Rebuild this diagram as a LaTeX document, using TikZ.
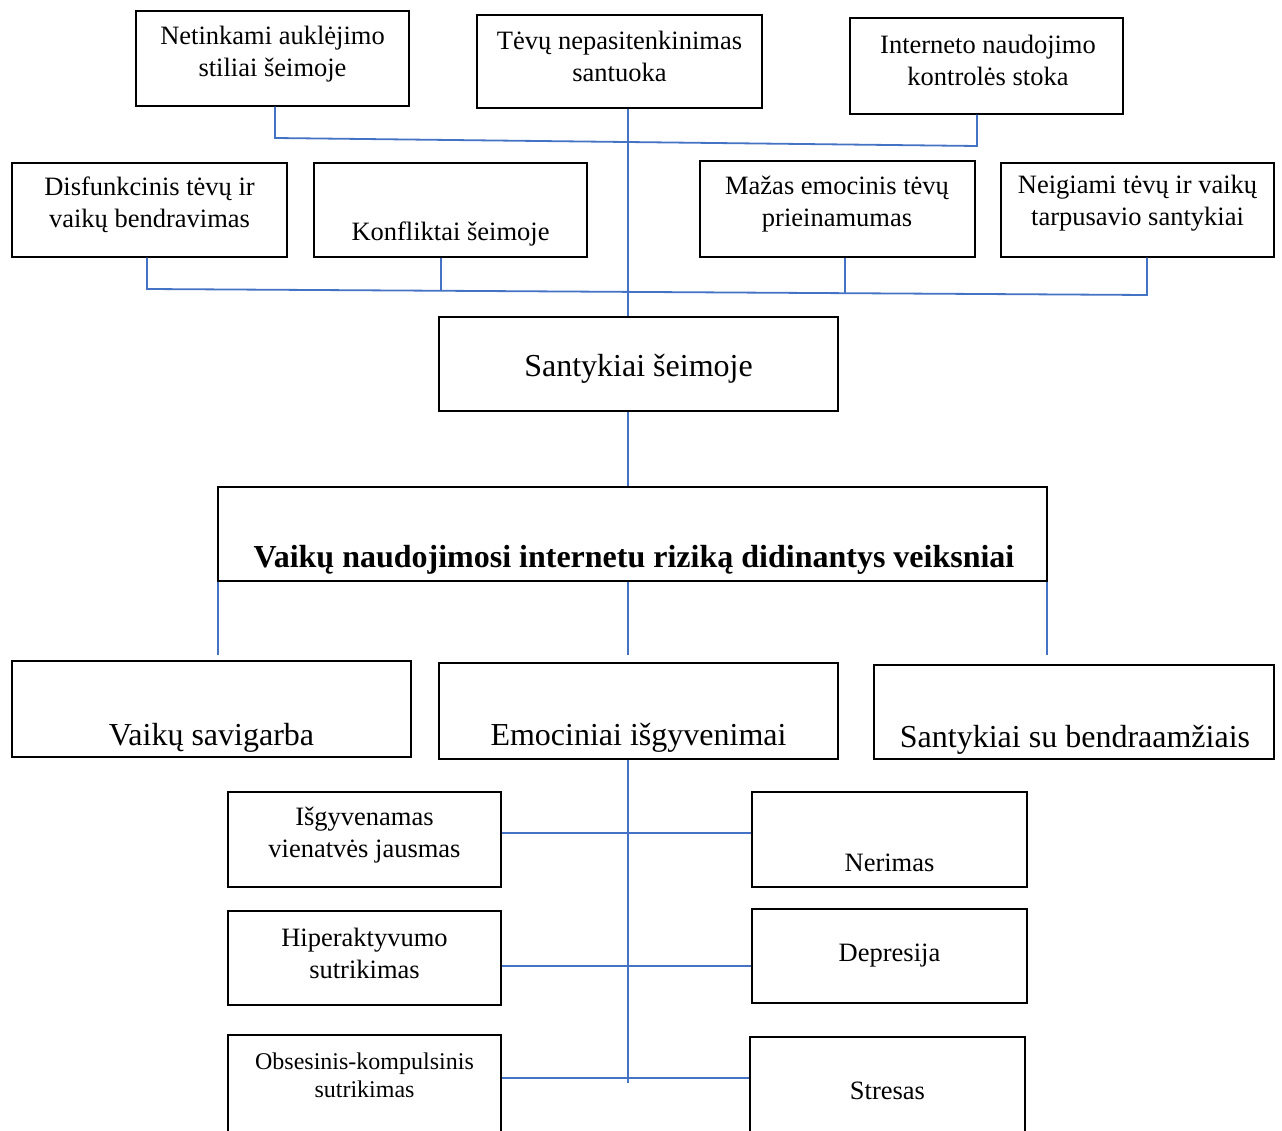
\documentclass[tikz,border=0pt]{standalone}
\usepackage{fontspec}
\setmainfont{Liberation Serif}
\definecolor{linkblue}{HTML}{4472C4}
\begin{document}
\begin{tikzpicture}[x=1pt,y=-1pt,
  box/.style={draw=black, line width=1.5pt, rectangle, inner sep=0pt},
  txt/.style={align=center, inner sep=0pt, font=\fontsize{26.5}{32}\selectfont},
  txtbig/.style={align=center, inner sep=0pt, font=\fontsize{32}{38}\selectfont},
  txtsmall/.style={align=center, inner sep=0pt, font=\fontsize{24}{28}\selectfont},
  link/.style={draw=linkblue, line width=1.8pt}]
\clip (0,0) rectangle (1282,1131);
\fill[white] (0,0) rectangle (1282,1131);
% boxes
\node[box, minimum width=273pt, minimum height=95pt] (b1) at (272.5,58.5) {};
\node[box, minimum width=285pt, minimum height=93pt] (b2) at (619.5,61.5) {};
\node[box, minimum width=273pt, minimum height=96pt] (b3) at (986.5,66) {};
\node[box, minimum width=275pt, minimum height=94pt] (b4) at (149.5,210) {};
\node[box, minimum width=273pt, minimum height=94pt] (b5) at (450.5,210) {};
\node[box, minimum width=275pt, minimum height=96pt] (b6) at (837.5,209) {};
\node[box, minimum width=273pt, minimum height=94pt] (b7) at (1137.5,210) {};
\node[box, minimum width=399pt, minimum height=94pt] (b8) at (638.5,364) {};
\node[box, minimum width=829pt, minimum height=94pt] (b9) at (632.5,534) {};
\node[box, minimum width=399pt, minimum height=96pt] (b10) at (211.5,709) {};
\node[box, minimum width=399pt, minimum height=96pt] (b11) at (638.5,711) {};
\node[box, minimum width=400pt, minimum height=94pt] (b12) at (1074,712) {};
\node[box, minimum width=273pt, minimum height=95pt] (b13) at (364.5,839.5) {};
\node[box, minimum width=275pt, minimum height=95pt] (b14) at (889.5,839.5) {};
\node[box, minimum width=273pt, minimum height=94pt] (b15) at (364.5,958) {};
\node[box, minimum width=275pt, minimum height=94pt] (b16) at (889.5,956) {};
\node[box, minimum width=273pt, minimum height=110pt] (b17) at (364.5,1090) {};
\node[box, minimum width=275pt, minimum height=110pt] (b18) at (887.5,1092) {};
% texts
\node[txt] (t1) at (272.5,54) {Netinkami auklėjimo\\stiliai šeimoje};
\node[txt] (t2) at (619.5,56) {Tėvų nepasitenkinimas\\santuoka};
\node[txt] (t3) at (988,60) {Interneto naudojimo\\kontrolės stoka};
\node[txt] (t4) at (149.5,205) {Disfunkcinis tėvų ir\\vaikų bendravimas};
\node[txt] (t5) at (450.5,234) {Konfliktai šeimoje};
\node[txt] (t6) at (837,204) {Mažas emocinis tėvų\\prieinamumas};
\node[txt] (t7) at (1137.5,203) {Neigiami tėvų ir vaikų\\tarpusavio santykiai};
\node[txtbig] (t8) at (638.5,369) {Santykiai šeimoje};
\node[txtbig, font=\fontsize{32}{38}\selectfont\bfseries] (t9) at (634,560) {Vaikų naudojimosi internetu riziką didinantys veiksniai};
\node[txtbig] (t10) at (211.5,738) {Vaikų savigarba};
\node[txtbig] (t11) at (638.5,738) {Emociniai išgyvenimai};
\node[txtbig] (t12) at (1075,740) {Santykiai su bendraamžiais};
\node[txt] (t13) at (364.5,835) {Išgyvenamas\\vienatvės jausmas};
\node[txt] (t14) at (889.5,863) {Nerimas};
\node[txt] (t15) at (364.5,953) {Hiperaktyvumo\\sutrikimas};
\node[txt] (t16) at (889.5,956) {Depresija};
\node[txtsmall] (t17) at (364.5,1075) {Obsesinis-kompulsinis\\sutrikimas};
\node[txt] (t18) at (887.5,1091) {Stresas};
% coordinates
\coordinate (c1) at (275,138);
\coordinate (c2) at (977,146);
\coordinate (sp) at (628,0);
\coordinate (d1) at (147,289);
\coordinate (d2) at (1147,295);
\coordinate (e1) at (441,291);
\coordinate (e2) at (845,293);
\coordinate (f1) at (218,655);
\coordinate (f2) at (628,655);
\coordinate (f3) at (1047,655);
\coordinate (g1) at (628,1083);
\coordinate (h1) at (628,833);
\coordinate (h2) at (628,966);
\coordinate (h3) at (628,1078);
% connectors
\draw[link] (b1.south -| c1) -- (c1) -- (c2) -- (b3.south -| c2);
\draw[link] (b2.south -| sp) -- (b8.north -| sp);
\draw[link] (b4.south -| d1) -- (d1) -- (d2) -- (b7.south -| d2);
\draw[link] (b5.south -| e1) -- (e1);
\draw[link] (b6.south -| e2) -- (e2);
\draw[link] (b8.south -| sp) -- (b9.north -| sp);
\draw[link] (b9.south -| f1) -- (f1);
\draw[link] (b9.south -| f2) -- (f2);
\draw[link] (b9.south -| f3) -- (f3);
\draw[link] (b11.south -| g1) -- (g1);
\draw[link] (b13.east |- h1) -- (b14.west |- h1);
\draw[link] (b15.east |- h2) -- (b16.west |- h2);
\draw[link] (b17.east |- h3) -- (b18.west |- h3);
\end{tikzpicture}
\end{document}
